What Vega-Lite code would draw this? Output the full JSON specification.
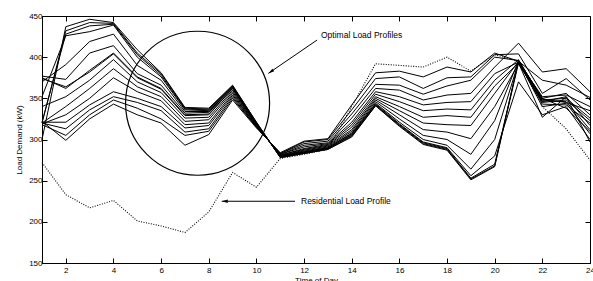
{
"$schema": "https://vega.github.io/schema/vega-lite/v6.json",
"width": 548, "height": 247,
"autosize": {"type": "none"},
"padding": {"left": 42, "top": 16, "right": 3, "bottom": 18},
"background": "white",
"config": {
  "font": "Liberation Sans",
  "view": {"stroke": "black", "strokeWidth": 1},
  "axis": {"grid": false, "domainColor": "black", "domainWidth": 1, "tickColor": "black", "tickWidth": 1, "tickSize": -5,
           "labelColor": "black", "labelFontSize": 8, "labelFont": "Liberation Sans", "titleFont": "Liberation Sans",
           "titleFontSize": 8, "titleFontWeight": "normal", "titleColor": "black", "labelFlush": false, "labelOverlap": false, "labelBound": false}
},
"datasets": {
"p": [
{"s":"L1","h":1,"v":300},{"s":"L1","h":2,"v":437},{"s":"L1","h":3,"v":446},{"s":"L1","h":4,"v":442},{"s":"L1","h":5,"v":409},{"s":"L1","h":6,"v":381},{"s":"L1","h":7,"v":339},{"s":"L1","h":8,"v":338},{"s":"L1","h":9,"v":366},{"s":"L1","h":10,"v":321},{"s":"L1","h":11,"v":278},{"s":"L1","h":12,"v":283},{"s":"L1","h":13,"v":288},{"s":"L1","h":14,"v":303},{"s":"L1","h":15,"v":341},{"s":"L1","h":16,"v":316},{"s":"L1","h":17,"v":294},{"s":"L1","h":18,"v":287},{"s":"L1","h":19,"v":251},{"s":"L1","h":20,"v":267},{"s":"L1","h":21,"v":396},{"s":"L1","h":22,"v":350},{"s":"L1","h":23,"v":338},{"s":"L1","h":24,"v":310},
{"s":"L2","h":1,"v":320},{"s":"L2","h":2,"v":432},{"s":"L2","h":3,"v":442},{"s":"L2","h":4,"v":441},{"s":"L2","h":5,"v":405},{"s":"L2","h":6,"v":380},{"s":"L2","h":7,"v":338},{"s":"L2","h":8,"v":337},{"s":"L2","h":9,"v":365},{"s":"L2","h":10,"v":321},{"s":"L2","h":11,"v":278},{"s":"L2","h":12,"v":283},{"s":"L2","h":13,"v":288},{"s":"L2","h":14,"v":304},{"s":"L2","h":15,"v":341},{"s":"L2","h":16,"v":317},{"s":"L2","h":17,"v":295},{"s":"L2","h":18,"v":288},{"s":"L2","h":19,"v":252},{"s":"L2","h":20,"v":268},{"s":"L2","h":21,"v":393},{"s":"L2","h":22,"v":327},{"s":"L2","h":23,"v":352},{"s":"L2","h":24,"v":297},
{"s":"L3","h":1,"v":321},{"s":"L3","h":2,"v":428},{"s":"L3","h":3,"v":438},{"s":"L3","h":4,"v":440},{"s":"L3","h":5,"v":403},{"s":"L3","h":6,"v":378},{"s":"L3","h":7,"v":337},{"s":"L3","h":8,"v":336},{"s":"L3","h":9,"v":365},{"s":"L3","h":10,"v":320},{"s":"L3","h":11,"v":279},{"s":"L3","h":12,"v":284},{"s":"L3","h":13,"v":289},{"s":"L3","h":14,"v":305},{"s":"L3","h":15,"v":342},{"s":"L3","h":16,"v":318},{"s":"L3","h":17,"v":296},{"s":"L3","h":18,"v":289},{"s":"L3","h":19,"v":253},{"s":"L3","h":20,"v":270},{"s":"L3","h":21,"v":395},{"s":"L3","h":22,"v":340},{"s":"L3","h":23,"v":344},{"s":"L3","h":24,"v":307},
{"s":"L4","h":1,"v":352},{"s":"L4","h":2,"v":426},{"s":"L4","h":3,"v":431},{"s":"L4","h":4,"v":439},{"s":"L4","h":5,"v":400},{"s":"L4","h":6,"v":376},{"s":"L4","h":7,"v":336},{"s":"L4","h":8,"v":335},{"s":"L4","h":9,"v":364},{"s":"L4","h":10,"v":320},{"s":"L4","h":11,"v":279},{"s":"L4","h":12,"v":284},{"s":"L4","h":13,"v":289},{"s":"L4","h":14,"v":306},{"s":"L4","h":15,"v":343},{"s":"L4","h":16,"v":319},{"s":"L4","h":17,"v":297},{"s":"L4","h":18,"v":290},{"s":"L4","h":19,"v":256},{"s":"L4","h":20,"v":280},{"s":"L4","h":21,"v":370},{"s":"L4","h":22,"v":330},{"s":"L4","h":23,"v":340},{"s":"L4","h":24,"v":300},
{"s":"L5","h":1,"v":370},{"s":"L5","h":2,"v":391},{"s":"L5","h":3,"v":419},{"s":"L5","h":4,"v":428},{"s":"L5","h":5,"v":390},{"s":"L5","h":6,"v":372},{"s":"L5","h":7,"v":334},{"s":"L5","h":8,"v":334},{"s":"L5","h":9,"v":364},{"s":"L5","h":10,"v":319},{"s":"L5","h":11,"v":279},{"s":"L5","h":12,"v":285},{"s":"L5","h":13,"v":290},{"s":"L5","h":14,"v":307},{"s":"L5","h":15,"v":344},{"s":"L5","h":16,"v":321},{"s":"L5","h":17,"v":300},{"s":"L5","h":18,"v":293},{"s":"L5","h":19,"v":264},{"s":"L5","h":20,"v":300},{"s":"L5","h":21,"v":394},{"s":"L5","h":22,"v":347},{"s":"L5","h":23,"v":346},{"s":"L5","h":24,"v":312},
{"s":"L6","h":1,"v":377},{"s":"L6","h":2,"v":373},{"s":"L6","h":3,"v":405},{"s":"L6","h":4,"v":414},{"s":"L6","h":5,"v":380},{"s":"L6","h":6,"v":366},{"s":"L6","h":7,"v":332},{"s":"L6","h":8,"v":333},{"s":"L6","h":9,"v":363},{"s":"L6","h":10,"v":319},{"s":"L6","h":11,"v":280},{"s":"L6","h":12,"v":285},{"s":"L6","h":13,"v":290},{"s":"L6","h":14,"v":308},{"s":"L6","h":15,"v":346},{"s":"L6","h":16,"v":325},{"s":"L6","h":17,"v":305},{"s":"L6","h":18,"v":300},{"s":"L6","h":19,"v":282},{"s":"L6","h":20,"v":323},{"s":"L6","h":21,"v":396},{"s":"L6","h":22,"v":343},{"s":"L6","h":23,"v":342},{"s":"L6","h":24,"v":320},
{"s":"L7","h":1,"v":375},{"s":"L7","h":2,"v":362},{"s":"L7","h":3,"v":384},{"s":"L7","h":4,"v":405},{"s":"L7","h":5,"v":376},{"s":"L7","h":6,"v":362},{"s":"L7","h":7,"v":330},{"s":"L7","h":8,"v":331},{"s":"L7","h":9,"v":362},{"s":"L7","h":10,"v":318},{"s":"L7","h":11,"v":280},{"s":"L7","h":12,"v":286},{"s":"L7","h":13,"v":291},{"s":"L7","h":14,"v":310},{"s":"L7","h":15,"v":348},{"s":"L7","h":16,"v":330},{"s":"L7","h":17,"v":312},{"s":"L7","h":18,"v":309},{"s":"L7","h":19,"v":301},{"s":"L7","h":20,"v":340},{"s":"L7","h":21,"v":392},{"s":"L7","h":22,"v":346},{"s":"L7","h":23,"v":352},{"s":"L7","h":24,"v":317},
{"s":"L8","h":1,"v":374},{"s":"L8","h":2,"v":364},{"s":"L8","h":3,"v":382},{"s":"L8","h":4,"v":404},{"s":"L8","h":5,"v":375},{"s":"L8","h":6,"v":361},{"s":"L8","h":7,"v":329},{"s":"L8","h":8,"v":330},{"s":"L8","h":9,"v":362},{"s":"L8","h":10,"v":318},{"s":"L8","h":11,"v":280},{"s":"L8","h":12,"v":287},{"s":"L8","h":13,"v":292},{"s":"L8","h":14,"v":312},{"s":"L8","h":15,"v":350},{"s":"L8","h":16,"v":335},{"s":"L8","h":17,"v":320},{"s":"L8","h":18,"v":318},{"s":"L8","h":19,"v":317},{"s":"L8","h":20,"v":356},{"s":"L8","h":21,"v":395},{"s":"L8","h":22,"v":349},{"s":"L8","h":23,"v":345},{"s":"L8","h":24,"v":335},
{"s":"L9","h":1,"v":340},{"s":"L9","h":2,"v":352},{"s":"L9","h":3,"v":372},{"s":"L9","h":4,"v":397},{"s":"L9","h":5,"v":370},{"s":"L9","h":6,"v":357},{"s":"L9","h":7,"v":326},{"s":"L9","h":8,"v":327},{"s":"L9","h":9,"v":360},{"s":"L9","h":10,"v":317},{"s":"L9","h":11,"v":281},{"s":"L9","h":12,"v":288},{"s":"L9","h":13,"v":293},{"s":"L9","h":14,"v":315},{"s":"L9","h":15,"v":352},{"s":"L9","h":16,"v":340},{"s":"L9","h":17,"v":327},{"s":"L9","h":18,"v":329},{"s":"L9","h":19,"v":327},{"s":"L9","h":20,"v":365},{"s":"L9","h":21,"v":393},{"s":"L9","h":22,"v":345},{"s":"L9","h":23,"v":348},{"s":"L9","h":24,"v":323},
{"s":"L10","h":1,"v":320},{"s":"L10","h":2,"v":340},{"s":"L10","h":3,"v":362},{"s":"L10","h":4,"v":386},{"s":"L10","h":5,"v":364},{"s":"L10","h":6,"v":352},{"s":"L10","h":7,"v":322},{"s":"L10","h":8,"v":324},{"s":"L10","h":9,"v":358},{"s":"L10","h":10,"v":317},{"s":"L10","h":11,"v":281},{"s":"L10","h":12,"v":289},{"s":"L10","h":13,"v":294},{"s":"L10","h":14,"v":318},{"s":"L10","h":15,"v":355},{"s":"L10","h":16,"v":346},{"s":"L10","h":17,"v":335},{"s":"L10","h":18,"v":337},{"s":"L10","h":19,"v":336},{"s":"L10","h":20,"v":372},{"s":"L10","h":21,"v":397},{"s":"L10","h":22,"v":348},{"s":"L10","h":23,"v":350},{"s":"L10","h":24,"v":326},
{"s":"L11","h":1,"v":319},{"s":"L11","h":2,"v":330},{"s":"L11","h":3,"v":350},{"s":"L11","h":4,"v":375},{"s":"L11","h":5,"v":358},{"s":"L11","h":6,"v":347},{"s":"L11","h":7,"v":318},{"s":"L11","h":8,"v":320},{"s":"L11","h":9,"v":356},{"s":"L11","h":10,"v":316},{"s":"L11","h":11,"v":282},{"s":"L11","h":12,"v":291},{"s":"L11","h":13,"v":295},{"s":"L11","h":14,"v":321},{"s":"L11","h":15,"v":358},{"s":"L11","h":16,"v":352},{"s":"L11","h":17,"v":342},{"s":"L11","h":18,"v":345},{"s":"L11","h":19,"v":346},{"s":"L11","h":20,"v":380},{"s":"L11","h":21,"v":394},{"s":"L11","h":22,"v":352},{"s":"L11","h":23,"v":354},{"s":"L11","h":24,"v":340},
{"s":"L12","h":1,"v":321},{"s":"L12","h":2,"v":321},{"s":"L12","h":3,"v":342},{"s":"L12","h":4,"v":358},{"s":"L12","h":5,"v":350},{"s":"L12","h":6,"v":340},{"s":"L12","h":7,"v":314},{"s":"L12","h":8,"v":317},{"s":"L12","h":9,"v":354},{"s":"L12","h":10,"v":316},{"s":"L12","h":11,"v":282},{"s":"L12","h":12,"v":293},{"s":"L12","h":13,"v":296},{"s":"L12","h":14,"v":326},{"s":"L12","h":15,"v":362},{"s":"L12","h":16,"v":360},{"s":"L12","h":17,"v":348},{"s":"L12","h":18,"v":354},{"s":"L12","h":19,"v":356},{"s":"L12","h":20,"v":388},{"s":"L12","h":21,"v":417},{"s":"L12","h":22,"v":382},{"s":"L12","h":23,"v":386},{"s":"L12","h":24,"v":358},
{"s":"L13","h":1,"v":320},{"s":"L13","h":2,"v":313},{"s":"L13","h":3,"v":336},{"s":"L13","h":4,"v":352},{"s":"L13","h":5,"v":345},{"s":"L13","h":6,"v":335},{"s":"L13","h":7,"v":309},{"s":"L13","h":8,"v":313},{"s":"L13","h":9,"v":352},{"s":"L13","h":10,"v":315},{"s":"L13","h":11,"v":283},{"s":"L13","h":12,"v":295},{"s":"L13","h":13,"v":298},{"s":"L13","h":14,"v":331},{"s":"L13","h":15,"v":367},{"s":"L13","h":16,"v":366},{"s":"L13","h":17,"v":355},{"s":"L13","h":18,"v":365},{"s":"L13","h":19,"v":372},{"s":"L13","h":20,"v":400},{"s":"L13","h":21,"v":396},{"s":"L13","h":22,"v":350},{"s":"L13","h":23,"v":356},{"s":"L13","h":24,"v":330},
{"s":"L14","h":1,"v":318},{"s":"L14","h":2,"v":305},{"s":"L14","h":3,"v":330},{"s":"L14","h":4,"v":348},{"s":"L14","h":5,"v":338},{"s":"L14","h":6,"v":325},{"s":"L14","h":7,"v":305},{"s":"L14","h":8,"v":310},{"s":"L14","h":9,"v":350},{"s":"L14","h":10,"v":315},{"s":"L14","h":11,"v":283},{"s":"L14","h":12,"v":297},{"s":"L14","h":13,"v":300},{"s":"L14","h":14,"v":336},{"s":"L14","h":15,"v":374},{"s":"L14","h":16,"v":376},{"s":"L14","h":17,"v":362},{"s":"L14","h":18,"v":375},{"s":"L14","h":19,"v":376},{"s":"L14","h":20,"v":403},{"s":"L14","h":21,"v":404},{"s":"L14","h":22,"v":356},{"s":"L14","h":23,"v":374},{"s":"L14","h":24,"v":348},
{"s":"L15","h":1,"v":322},{"s":"L15","h":2,"v":299},{"s":"L15","h":3,"v":325},{"s":"L15","h":4,"v":343},{"s":"L15","h":5,"v":330},{"s":"L15","h":6,"v":320},{"s":"L15","h":7,"v":293},{"s":"L15","h":8,"v":306},{"s":"L15","h":9,"v":348},{"s":"L15","h":10,"v":314},{"s":"L15","h":11,"v":284},{"s":"L15","h":12,"v":298},{"s":"L15","h":13,"v":301},{"s":"L15","h":14,"v":342},{"s":"L15","h":15,"v":381},{"s":"L15","h":16,"v":383},{"s":"L15","h":17,"v":376},{"s":"L15","h":18,"v":388},{"s":"L15","h":19,"v":382},{"s":"L15","h":20,"v":405},{"s":"L15","h":21,"v":395},{"s":"L15","h":22,"v":372},{"s":"L15","h":23,"v":366},{"s":"L15","h":24,"v":351},
{"s":"R","h":1,"v":272},{"s":"R","h":2,"v":233},{"s":"R","h":3,"v":217},{"s":"R","h":4,"v":226},{"s":"R","h":5,"v":201},{"s":"R","h":6,"v":195},{"s":"R","h":7,"v":187},{"s":"R","h":8,"v":212},{"s":"R","h":9,"v":260},{"s":"R","h":10,"v":242},{"s":"R","h":11,"v":277},{"s":"R","h":12,"v":282},{"s":"R","h":13,"v":288},{"s":"R","h":14,"v":340},{"s":"R","h":15,"v":392},{"s":"R","h":16,"v":390},{"s":"R","h":17,"v":388},{"s":"R","h":18,"v":400},{"s":"R","h":19,"v":383},{"s":"R","h":20,"v":403},{"s":"R","h":21,"v":395},{"s":"R","h":22,"v":340},{"s":"R","h":23,"v":313},{"s":"R","h":24,"v":275}
],
"a": [
{"kind":"circle","h":7.53,"v":344},
{"kind":"arrowOpt","h":12.545,"v":420.8,"h2":10.5,"v2":380.3},
{"kind":"arrowRes","h":11.62,"v":225,"h2":8.545,"v2":225},
{"kind":"textOpt","h":12.71,"v":426.9,"label":"Optimal Load Profiles"},
{"kind":"textRes","h":11.87,"v":225,"label":"Residential Load Profile"}
]
},
"layer": [
{
"layer": [
{
  "data": {"name": "p"},
  "transform": [{"filter": "datum.s != 'R'"}],
  "mark": {"type": "line", "color": "black", "strokeWidth": 1},
  "encoding": {
    "x": {"field": "h", "type": "quantitative", "scale": {"domain": [1, 24], "nice": false, "zero": false},
          "axis": {"title": "Time of Day", "values": [2,4,6,8,10,12,14,16,18,20,22,24], "labelPadding": 8, "titlePadding": 2}},
    "y": {"field": "v", "type": "quantitative", "scale": {"domain": [150, 450], "nice": false, "zero": false},
          "axis": {"title": "Load Demand (kW)", "values": [150,200,250,300,350,400,450], "labelPadding": 5, "titlePadding": 5}},
    "detail": {"field": "s"}
  }
},
{
  "data": {"name": "p"},
  "transform": [{"filter": "datum.s == 'R'"}],
  "mark": {"type": "line", "color": "black", "strokeWidth": 1.1, "strokeDash": [1, 1.5]},
  "encoding": {
    "x": {"field": "h", "type": "quantitative"},
    "y": {"field": "v", "type": "quantitative"}
  }
},
{
  "data": {"name": "a"},
  "transform": [{"filter": "datum.kind == 'circle'"}],
  "mark": {"type": "point", "shape": "circle", "size": 20736, "filled": false, "stroke": "black", "strokeWidth": 1.2, "opacity": 1},
  "encoding": {
    "x": {"field": "h", "type": "quantitative"},
    "y": {"field": "v", "type": "quantitative"}
  }
},
{
  "data": {"name": "a"},
  "transform": [{"filter": "datum.kind == 'arrowOpt' || datum.kind == 'arrowRes'"}],
  "mark": {"type": "rule", "color": "black", "strokeWidth": 1},
  "encoding": {
    "x": {"field": "h", "type": "quantitative"},
    "y": {"field": "v", "type": "quantitative"},
    "x2": {"field": "h2"},
    "y2": {"field": "v2"}
  }
},
{
  "data": {"name": "a"},
  "transform": [{"filter": "datum.kind == 'arrowOpt'"}],
  "mark": {"type": "point", "shape": "M0,0L-0.55,2L0.55,2Z", "size": 36, "filled": true, "color": "black", "opacity": 1, "angle": 235.5},
  "encoding": {
    "x": {"field": "h2", "type": "quantitative"},
    "y": {"field": "v2", "type": "quantitative"}
  }
},
{
  "data": {"name": "a"},
  "transform": [{"filter": "datum.kind == 'arrowRes'"}],
  "mark": {"type": "point", "shape": "M0,0L-0.55,2L0.55,2Z", "size": 36, "filled": true, "color": "black", "opacity": 1, "angle": 270},
  "encoding": {
    "x": {"field": "h2", "type": "quantitative"},
    "y": {"field": "v2", "type": "quantitative"}
  }
},
{
  "data": {"name": "a"},
  "transform": [{"filter": "datum.kind == 'textOpt' || datum.kind == 'textRes'"}],
  "mark": {"type": "text", "align": "left", "baseline": "middle", "fontSize": 8.5, "font": "Liberation Sans", "color": "black"},
  "encoding": {
    "x": {"field": "h", "type": "quantitative"},
    "y": {"field": "v", "type": "quantitative"},
    "text": {"field": "label"}
  }
}
]
},
{
  "data": {"name": "a"},
  "mark": {"type": "point", "opacity": 0},
  "encoding": {
    "x": {"field": "h", "type": "quantitative", "axis": {"orient": "top", "labels": false, "title": null, "domain": false, "values": [2,4,6,8,10,12,14,16,18,20,22,24]}},
    "y": {"field": "v", "type": "quantitative", "axis": {"orient": "right", "labels": false, "title": null, "domain": false, "values": [150,200,250,300,350,400,450]}}
  }
}
],
"resolve": {"axis": {"x": "independent", "y": "independent"}}
}
